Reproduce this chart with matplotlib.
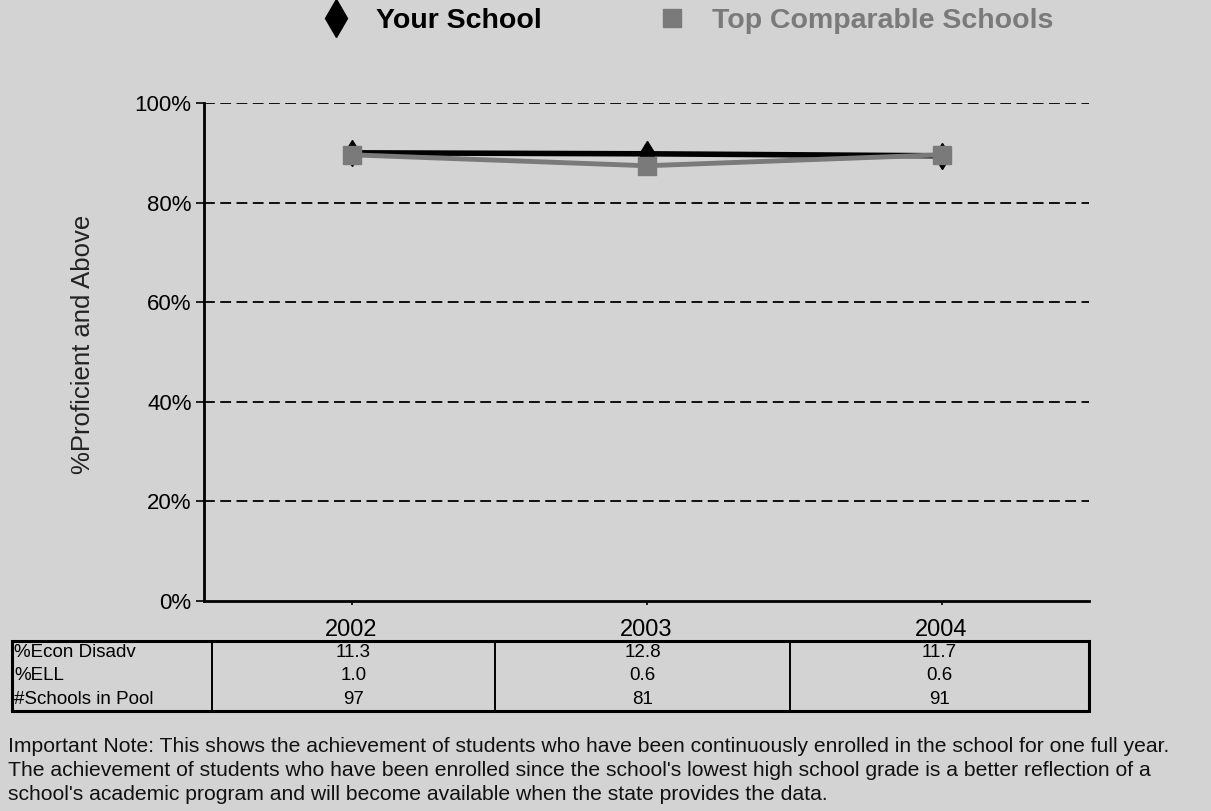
import matplotlib
matplotlib.use("Agg")
import matplotlib.pyplot as plt
from matplotlib.lines import Line2D
from matplotlib.patches import Rectangle

# ---- data ----
years = ["2002", "2003", "2004"]
your_school = [90.0, 89.8, 89.4]
top_comparable = [89.6, 87.4, 89.6]
row_labels = ["%Econ Disadv", "%ELL", "#Schools in Pool"]
econ_disadv = ["11.3", "12.8", "11.7"]
ell = ["1.0", "0.6", "0.6"]
schools_in_pool = ["97", "81", "91"]
y_ticks = [0, 20, 40, 60, 80, 100]
y_ticklabels = ["0%", "20%", "40%", "60%", "80%", "100%"]
note_lines = [
    "Important Note: This shows the achievement of students who have been continuously enrolled in the school for one full year.",
    "The achievement of students who have been enrolled since the school's lowest high school grade is a better reflection of a",
    "school's academic program and will become available when the state provides the data.",
]

BG = "#d3d3d3"
GRAY = "#7a7a7a"
plt.rcParams["font.family"] = ["Liberation Sans", "DejaVu Sans"]

fig = plt.figure(figsize=(12.11, 8.11), dpi=100, facecolor=BG)
W, H = 1211, 811
ax = fig.add_axes([204 / W, 1 - 601 / H, (1089 - 204) / W, (601 - 103) / H])
ax.set_facecolor(BG)

x = list(range(len(years)))
ax.plot(x, your_school, color="black", lw=4, marker="d", ms=13,
        mfc="black", mec="black", zorder=3)
ax.plot(x, top_comparable, color=GRAY, lw=3.5, marker="s", ms=13,
        mfc=GRAY, mec=GRAY, zorder=4)

ax.set_xlim(-0.5, 2.5)
ax.set_ylim(0, 100)
ax.set_yticks(y_ticks)
ax.set_yticklabels(y_ticklabels, fontsize=16)
ax.set_xticks(x)
ax.set_xticklabels(years, fontsize=17)
ax.tick_params(axis="y", length=6, width=1.2, pad=3)
ax.tick_params(axis="x", length=3, width=1.2, pad=10)
for s in ["top", "right"]:
    ax.spines[s].set_visible(False)
for s in ["left", "bottom"]:
    ax.spines[s].set_linewidth(2)
for yv in y_ticks[1:]:
    ax.axhline(yv, color="black", lw=1.3, ls=(0, (6, 3)), zorder=1)

ax.set_ylabel("%Proficient and Above", fontsize=18.5, color="#222222")
ax.yaxis.set_label_coords((95 - 204) / 885, 0.515)

# ---- data table ----
cell_text = [econ_disadv, ell, schools_in_pool]
col_w = [200, 283, 295, 299]
tot = sum(col_w)
full = [[row_labels[i]] + cell_text[i] for i in range(3)]
tbl = ax.table(cellText=full, colWidths=[c / tot for c in col_w],
               cellLoc="center",
               bbox=[(12 - 204) / 885, (601 - 711) / 498, tot / 885, 70 / 498])
tbl.auto_set_font_size(False)
for (r, c), cell in tbl.get_celld().items():
    cell.set_facecolor("none")
    cell.visible_edges = "LR"
    cell.set_linewidth(1.2)
    cell.get_text().set_fontsize(13.5)
    if c == 0:
        cell.get_text().set_ha("left")
        cell._loc = "left"
        cell.PAD = 0.01
ax.add_patch(Rectangle(((12 - 204) / 885, (601 - 711) / 498), tot / 885, 70 / 498,
                       transform=ax.transAxes, fill=False, lw=2.2,
                       ec="black", clip_on=False, zorder=5))

# ---- legend ----
h1 = Line2D([], [], color="black", marker="d", ls="none", ms=19)
h2 = Line2D([], [], color=GRAY, marker="s", ls="none", ms=13)
leg = fig.legend([h1, h2], ["Your School", "Top Comparable Schools"],
                 loc="center", bbox_to_anchor=(689 / W, 1 - 21 / H), ncol=2,
                 frameon=False, prop={"weight": "bold", "size": 20.5},
                 handlelength=0.8, handletextpad=1.0, columnspacing=4.2)
leg.get_texts()[1].set_color(GRAY)

# ---- note ----
for i, line in enumerate(note_lines):
    fig.text(8 / W, 1 - (747 + 23.5 * i) / H, line, fontsize=15.2,
             va="center", ha="left", color="#111111")

fig.savefig("out.png", dpi=100, facecolor=BG)
